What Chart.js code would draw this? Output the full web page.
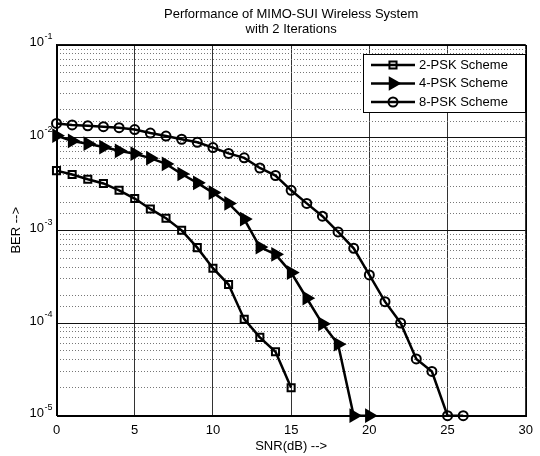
<!DOCTYPE html>
<html lang="en">
<head>
  <meta charset="UTF-8">
  <title>Performance of MIMO-SUI Wireless System</title>
  <script src="https://cdn.jsdelivr.net/npm/chart.js@4.4.1/dist/chart.umd.min.js"></script>
  <style>
    body { margin: 0; background: #fff; }
    canvas { display: block; }
  </style>
</head>
<body>
  <canvas id="berChart" width="540" height="456"></canvas>

  <script>
    // values
    const snr2 = [0, 1, 2, 3, 4, 5, 6, 7, 8, 9, 10, 11, 12, 13, 14, 15];
    const ber2 = [4.4e-3, 4.0e-3, 3.55e-3, 3.2e-3, 2.7e-3, 2.2e-3, 1.7e-3, 1.35e-3, 1.0e-3, 6.5e-4,
                  3.9e-4, 2.6e-4, 1.1e-4, 7.0e-5, 4.9e-5, 2.0e-5];

    const snr4 = [0, 1, 2, 3, 4, 5, 6, 7, 8, 9, 10, 11, 12, 13, 14, 15, 16, 17, 18, 19, 20];
    const ber4 = [1.05e-2, 9.2e-3, 8.6e-3, 7.9e-3, 7.2e-3, 6.7e-3, 6.0e-3, 5.2e-3, 4.05e-3, 3.25e-3,
                  2.55e-3, 1.95e-3, 1.32e-3, 6.6e-4, 5.5e-4, 3.5e-4, 1.85e-4, 9.8e-5, 5.9e-5, 1e-5, 1e-5];

    const snr8 = [0, 1, 2, 3, 4, 5, 6, 7, 8, 9, 10, 11, 12, 13, 14, 15, 16, 17, 18, 19, 20, 21, 22, 23, 24, 25, 26];
    const ber8 = [1.42e-2, 1.37e-2, 1.34e-2, 1.31e-2, 1.28e-2, 1.22e-2, 1.12e-2, 1.04e-2, 9.6e-3, 8.9e-3,
                  7.8e-3, 6.75e-3, 6.05e-3, 4.7e-3, 3.9e-3, 2.7e-3, 1.95e-3, 1.42e-3, 9.6e-4, 6.4e-4,
                  3.3e-4, 1.7e-4, 1.0e-4, 4.1e-5, 3.0e-5, 1e-5, 1e-5];

    const seriesNames = ['2-PSK Scheme', '4-PSK Scheme', '8-PSK Scheme'];
    const xTickStep = 5;

    const FONT = '"Liberation Sans", Arial, sans-serif';

    function toPoints(xs, ys) {
      return xs.map((x, i) => ({ x: x, y: ys[i] }));
    }

    function isDecade(v) {
      const l = Math.log10(v);
      return Math.abs(l - Math.round(l)) < 1e-9;
    }

    function baseDataset(label, points, style) {
      return {
        label: label,
        data: points,
        borderColor: '#000',
        borderWidth: 2.5,
        pointStyle: style,
        pointBorderColor: '#000',
        pointBorderWidth: 2,
        pointBackgroundColor: 'rgba(0,0,0,0)',
        pointRadius: 4.5,
        tension: 0,
        clip: false
      };
    }

    const ds2 = baseDataset(seriesNames[0], toPoints(snr2, ber2), 'rect');
    ds2.pointRadius = 5;
    const ds4 = baseDataset(seriesNames[1], toPoints(snr4, ber4), 'triangle');
    ds4.pointRotation = 90;
    ds4.pointRadius = 6.5;
    ds4.pointBackgroundColor = '#000';
    const ds8 = baseDataset(seriesNames[2], toPoints(snr8, ber8), 'circle');

    // y tick labels as 10 with a raised exponent, closed axes box, boxed legend
    const matlabLook = {
      id: 'matlabLook',
      afterDraw(chart) {
        const ctx = chart.ctx;
        const area = chart.chartArea;
        const y = chart.scales.y;

        ctx.save();
        ctx.strokeStyle = '#000';
        ctx.lineWidth = 1;
        ctx.strokeRect(Math.round(area.left) + 0.5, Math.round(area.top) + 0.5,
                       Math.round(area.right - area.left), Math.round(area.bottom - area.top));

        ctx.fillStyle = '#000';
        ctx.textBaseline = 'middle';
        y.ticks.forEach(t => {
          if (!isDecade(t.value)) return;
          const py = y.getPixelForValue(t.value);
          const exp = String(Math.round(Math.log10(t.value)));
          ctx.font = '9px ' + FONT;
          const w2 = ctx.measureText(exp).width;
          const right = area.left - 4;
          ctx.textAlign = 'left';
          ctx.fillText(exp, right - w2, py - 8);
          ctx.font = '13px ' + FONT;
          ctx.textAlign = 'right';
          ctx.fillText('10', right - w2 - 0.5, py - 2);
        });

        // legend box
        const bx = 363, by = 54, bw = 162, bh = 58;
        ctx.fillStyle = '#fff';
        ctx.fillRect(bx, by, bw, bh);
        ctx.strokeRect(bx + 0.5, by + 0.5, bw, bh);
        chart.data.datasets.forEach((ds, i) => {
          const ry = by + 11 + i * 18.5;
          ctx.strokeStyle = '#000';
          ctx.lineWidth = ds.borderWidth;
          ctx.beginPath();
          ctx.moveTo(371, ry);
          ctx.lineTo(415, ry);
          ctx.stroke();
          ctx.fillStyle = ds.pointBackgroundColor;
          ctx.lineWidth = ds.pointBorderWidth;
          Chart.helpers.drawPoint(ctx, {
            pointStyle: ds.pointStyle,
            rotation: ds.pointRotation || 0,
            radius: ds.pointRadius,
            borderWidth: ds.pointBorderWidth
          }, 393, ry);
          ctx.fillStyle = '#000';
          ctx.font = '13px ' + FONT;
          ctx.textAlign = 'left';
          ctx.textBaseline = 'middle';
          ctx.fillText(ds.label, 419, ry);
        });
        ctx.restore();
      }
    };

    new Chart(document.getElementById('berChart'), {
      type: 'line',
      data: { datasets: [ds2, ds4, ds8] },
      options: {
        responsive: false,
        animation: false,
        devicePixelRatio: 1,
        layout: { padding: { left: 0, right: 7, top: 0, bottom: 0 } },
        plugins: {
          legend: { display: false },
          tooltip: { enabled: false },
          title: {
            display: true,
            fullSize: false,
            text: ['Performance of MIMO-SUI Wireless System', 'with 2 Iterations'],
            color: '#000',
            font: { family: FONT, size: 13, weight: 'normal', lineHeight: 1.15 },
            padding: { top: 7, bottom: 8 }
          }
        },
        scales: {
          x: {
            type: 'linear',
            min: 0,
            max: 30,
            ticks: {
              stepSize: xTickStep,
              color: '#000',
              font: { family: FONT, size: 13 },
              padding: 7,
              maxRotation: 0
            },
            grid: { color: '#333', lineWidth: 1, drawTicks: false },
            border: { color: '#000', width: 1 },
            title: {
              display: true,
              text: 'SNR(dB) -->',
              color: '#000',
              font: { family: FONT, size: 13 },
              padding: { top: 0, bottom: 2 }
            },
            afterFit(s) { s.height = 40.3; }
          },
          y: {
            type: 'logarithmic',
            min: 1e-5,
            max: 1e-1,
            ticks: { display: false },
            grid: {
              drawTicks: false,
              lineWidth: 1,
              color: c => (c.tick && isDecade(c.tick.value)) ? '#111' : '#777'
            },
            border: {
              color: '#000',
              width: 1,
              dash: c => (c.tick && !isDecade(c.tick.value)) ? [1, 2] : []
            },
            title: {
              display: true,
              text: 'BER -->',
              color: '#000',
              font: { family: FONT, size: 13 },
              padding: { top: 9, bottom: 0 }
            },
            afterFit(s) { s.width = 56.5; }
          }
        }
      },
      plugins: [matlabLook]
    });
  </script>
</body>
</html>
